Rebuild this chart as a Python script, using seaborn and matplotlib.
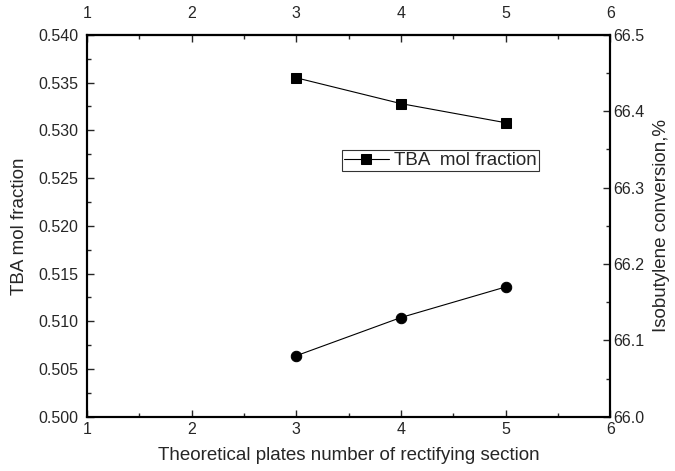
import matplotlib
matplotlib.use("Agg")
import matplotlib.pyplot as plt
from matplotlib.ticker import MultipleLocator, FormatStrFormatter, FixedLocator
import seaborn as sns
import pandas as pd

plates = [3, 4, 5]
tba_mol_fraction = [0.5355, 0.5328, 0.5308]
isobutylene_conversion = [66.08, 66.13, 66.17]
x_ticks = [1, 2, 3, 4, 5, 6]

sns.set_theme(style="ticks")
plt.rcParams['font.family'] = ['Liberation Sans', 'DejaVu Sans']

fig, ax = plt.subplots(figsize=(6.75, 4.71), dpi=100)
fig.subplots_adjust(left=0.129, right=0.904, top=0.926, bottom=0.115)

df1 = pd.DataFrame({"x": plates, "y": tba_mol_fraction})
df2 = pd.DataFrame({"x": plates, "y": isobutylene_conversion})

sns.lineplot(data=df1, x="x", y="y", ax=ax, color="black", marker="s",
             markersize=7, linewidth=0.8, markeredgecolor="black",
             label="TBA  mol fraction")
ax2 = ax.twinx()
sns.lineplot(data=df2, x="x", y="y", ax=ax2, color="black", marker="o",
             markersize=7.5, linewidth=0.8, markeredgecolor="black", legend=False)

ax.set_xlim(1, 6)
ax.set_ylim(0.500, 0.540)
ax2.set_ylim(66.0, 66.5)
ax.xaxis.set_major_locator(FixedLocator(x_ticks))
ax.xaxis.set_minor_locator(FixedLocator([1.5, 2.5, 3.5, 4.5, 5.5]))
ax.yaxis.set_major_locator(MultipleLocator(0.005))
ax.yaxis.set_minor_locator(MultipleLocator(0.0025))
ax.yaxis.set_major_formatter(FormatStrFormatter('%.3f'))
ax2.yaxis.set_major_locator(MultipleLocator(0.1))
ax2.yaxis.set_minor_locator(MultipleLocator(0.05))
ax2.yaxis.set_major_formatter(FormatStrFormatter('%.1f'))

ax.set_xlabel("Theoretical plates number of rectifying section", fontsize=13.5, labelpad=7)
ax.set_ylabel("TBA mol fraction", fontsize=13.5, labelpad=8)
ax2.set_ylabel("Isobutylene conversion,%", fontsize=13.5, labelpad=6)

for a in (ax, ax2):
    for s in a.spines.values():
        s.set_visible(True)
        s.set_linewidth(1.5)
        s.set_color("black")

ax.tick_params(axis="x", which="both", direction="in", top=False, bottom=True,
               labelsize=11.5, pad=4)
ax.tick_params(axis="y", which="both", direction="in", left=True, right=False,
               labelsize=11.5, pad=6)
ax.tick_params(which="major", length=5, width=1)
ax.tick_params(which="minor", length=3, width=1)
ax2.tick_params(axis="y", which="both", direction="in", right=True, left=False,
                labelsize=11.5, pad=2)
ax2.tick_params(which="major", length=5, width=1)
ax2.tick_params(which="minor", length=3, width=1)

top = ax.secondary_xaxis('top')
top.xaxis.set_major_locator(FixedLocator(x_ticks))
top.xaxis.set_minor_locator(FixedLocator([1.5, 2.5, 3.5, 4.5, 5.5]))
top.tick_params(axis="x", which="both", direction="in", labelsize=11.5, pad=10)
top.tick_params(which="major", length=5, width=1)
top.tick_params(which="minor", length=3, width=1)
top.spines['top'].set_linewidth(1.5)

leg = ax.legend(loc="upper left", bbox_to_anchor=(0.487, 0.698), frameon=True,
                fancybox=False, fontsize=13.5, handlelength=2.4, borderpad=0.1,
                handletextpad=0.3, borderaxespad=0)
leg.get_frame().set_edgecolor("black")
leg.get_frame().set_linewidth(0.8)

fig.savefig("out.png", dpi=100)
